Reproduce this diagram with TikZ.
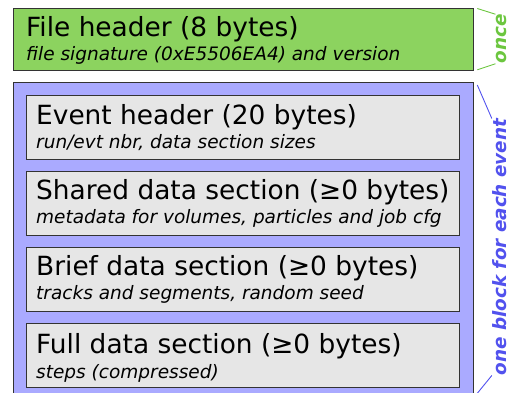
\documentclass[tikz,border=0pt]{standalone}
\usepackage{fontspec}
\setmainfont{DejaVu Sans}
\usetikzlibrary{calc}
\definecolor{headgreen}{HTML}{8CD35F}
\definecolor{oncegreen}{HTML}{6CC63F}
\definecolor{eventblue}{HTML}{AAAAFF}
\definecolor{labelblue}{HTML}{5252EE}
\definecolor{sectiongray}{HTML}{E6E6E6}
\definecolor{borderdark}{HTML}{333333}
\tikzset {
    outer box/.style = {draw = borderdark, line width = 1.3pt, anchor = north west, inner sep = 0pt},
    section box/.style = {outer box, fill = sectiongray, minimum width = 433pt, minimum height = 64pt},
    title/.style = {anchor = base west, inner sep = 0pt, font = \fontsize{26.4}{30}\selectfont},
    subtitle/.style = {anchor = base west, inner sep = 0pt, font = \fontsize{18.5}{22}\selectfont\itshape},
    side label/.style = {anchor = base, rotate = 90, inner sep = 0pt, font = \fontsize{18.4}{22}\selectfont\bfseries\itshape},
    side line/.style = {line width = 0.9pt}
}
\begin{document}
\begin{tikzpicture}[x = 1pt, y = -1pt]
    \clip (0, 0) rectangle (509, 392);
    % file header, written once
    \node (file) [outer box, fill = headgreen, minimum width = 460pt, minimum height = 62pt] at (13, 7.5) {};
    \node (file title) [title] at ($(file.north west) + (13, 28.5)$) {File header (8 bytes)};
    \node (file sub) [subtitle] at ($(file.north west) + (13, 53)$) {file signature (0xE5506EA4) and version};
    % one block per event
    \node (events) [outer box, fill = eventblue, minimum width = 460pt, minimum height = 313pt] at (13, 82) {};
    \node (evt) [section box] at (26, 94.5) {};
    \node (evt title) [title] at ($(evt.north west) + (10, 29.5)$) {Event header (20 bytes)};
    \node (evt sub) [subtitle] at ($(evt.north west) + (10, 54)$) {run/evt nbr, data section sizes};
    \node (shared) [section box] at (26, 171) {};
    \node (shared title) [title] at ($(shared.north west) + (10, 28)$) {Shared data section (≥0 bytes)};
    \node (shared sub) [subtitle] at ($(shared.north west) + (10, 52.5)$) {metadata for volumes, particles and job cfg};
    \node (brief) [section box] at (26, 247) {};
    \node (brief title) [title] at ($(brief.north west) + (10, 28)$) {Brief data section (≥0 bytes)};
    \node (brief sub) [subtitle] at ($(brief.north west) + (10, 52.5)$) {tracks and segments, random seed};
    \node (full) [section box] at (26, 323) {};
    \node (full title) [title] at ($(full.north west) + (10, 30)$) {Full data section (≥0 bytes)};
    \node (full sub) [subtitle] at ($(full.north west) + (10, 55)$) {steps (compressed)};
    % side labels
    \node (once) [side label, text = oncegreen] at (506, 39) {once};
    \draw [side line, oncegreen] ($(file.north east) + (3, 1)$) -- (once.north east);
    \draw [side line, oncegreen] ($(file.south east) + (3, -1)$) -- (once.north west);
    \node (each) [side label, text = labelblue] at (506, 247) {one block for each event};
    \draw [side line, labelblue] ($(events.north east) + (3, 3)$) -- (each.north east);
    \draw [side line, labelblue] ($(events.south east) + (3, -3)$) -- (each.north west);
\end{tikzpicture}
\end{document}
